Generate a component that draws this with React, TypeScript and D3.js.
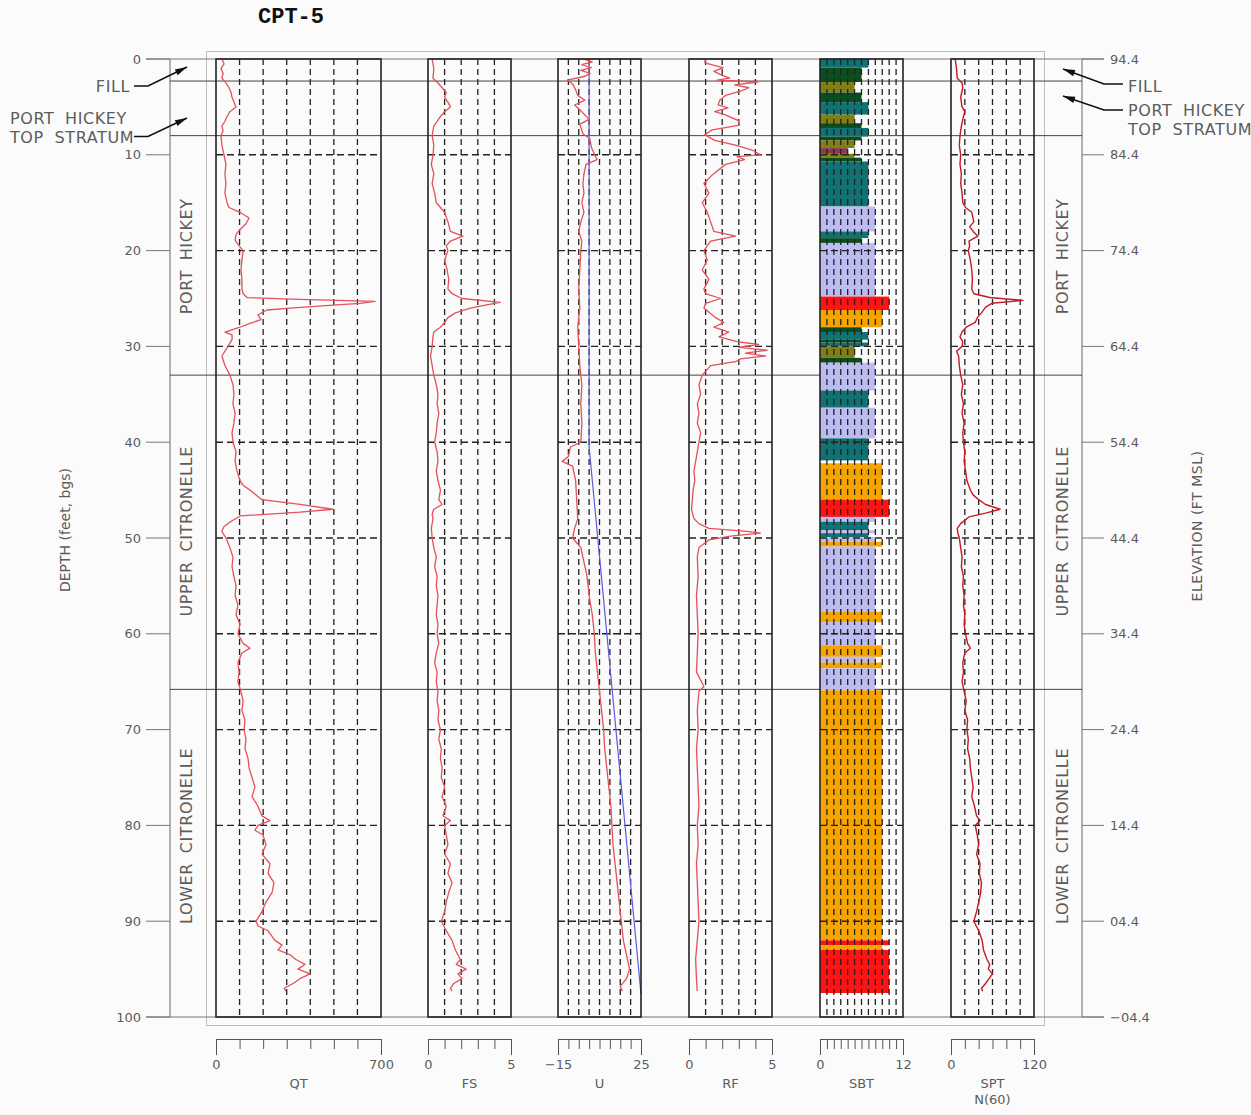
import { useEffect, useRef } from 'react';
import * as d3 from 'd3';

// depth axis (feet below ground surface) and matching elevations
const depthTicks = [0, 10, 20, 30, 40, 50, 60, 70, 80, 90, 100];
const elevationLabels = ['94.4', '84.4', '74.4', '64.4', '54.4', '44.4', '34.4', '24.4', '14.4', '04.4', '\u221204.4'];

// stratigraphy
const formationBreaks = [2.3, 8.0, 33.0, 65.8];
const formationNames = ['PORT HICKEY', 'UPPER CITRONELLE', 'LOWER CITRONELLE'];
const formationLabelDepths = [20.6, 49.3, 81.1];

// tracks
const trackNames = ['QT', 'FS', 'U', 'RF', 'SBT', 'SPT'];
const trackMins = [0, 0, -15, 0, 0, 0];
const trackMaxs = [700, 5, 25, 5, 12, 120];
const trackSteps = [100, 1, 5, 1, 1, 20];
const trackEndLabels = [['0', '700'], ['0', '5'], ['\u221215', '25'], ['0', '5'], ['0', '12'], ['0', '120']];

// [depth, value]
const qtProfile: [number, number][] = [
  [0, 25], [0.5, 34], [1, 21], [1.5, 30], [2, 25], [2.5, 42], [3, 55], [3.5, 64], [4, 68], [4.5, 76],
  [5, 85], [5.5, 59], [6, 47], [6.5, 38], [7, 25], [7.5, 30], [8, 21], [9, 25], [10, 34], [11, 42],
  [12, 38], [13, 42], [14, 38], [15, 47], [15.5, 55], [16, 102], [16.6, 140], [17.2, 127], [17.8, 102],
  [18.3, 85], [18.9, 81], [19.5, 98], [20, 115], [21, 110], [22, 106], [23, 110], [24, 110], [24.5, 115],
  [24.9, 132], [25.1, 356], [25.3, 675], [25.5, 611], [25.7, 496], [26, 314], [26.2, 216], [26.7, 178],
  [27.2, 191], [27.6, 144], [28, 102], [28.5, 38], [28.8, 68], [29.3, 68], [30, 51], [31, 25], [32, 38],
  [33, 59], [34, 72], [35, 76], [36, 72], [37, 81], [38, 76], [39, 68], [40, 72], [41, 85], [42, 81],
  [43, 89], [44, 102], [44.5, 115], [45, 144], [45.5, 170], [46, 195], [46.5, 356], [47, 496], [47.3, 356],
  [47.7, 102], [48.2, 68], [48.8, 34], [49.3, 25], [50, 42], [51, 59], [52, 72], [53, 68], [54, 76],
  [55, 85], [56, 81], [57, 93], [58, 85], [59, 102], [60, 93], [61, 115], [61.5, 144], [62, 110], [63, 93],
  [64, 98], [65, 93], [66, 106], [67, 115], [68, 110], [69, 123], [70, 119], [71, 127], [72, 123], [73, 136],
  [74, 140], [75, 153], [76, 165], [77, 153], [78, 178], [79, 195], [79.5, 229], [80, 178], [80.5, 165],
  [81, 199], [82, 212], [83, 195], [84, 229], [85, 221], [86, 246], [87, 238], [88, 212], [89, 195],
  [90, 170], [90.5, 178], [91, 221], [92, 250], [92.5, 280], [93, 263], [93.5, 314], [94, 339], [94.5, 378],
  [95, 348], [95.5, 399], [96, 356], [96.5, 327], [97, 289], [97.3, 297],
];

const fsProfile: [number, number][] = [
  [0, 0.25], [1, 0.35], [2, 0.3], [2.5, 0.6], [3, 0.85], [3.5, 1.1], [4, 1.0], [4.5, 1.2], [5, 1.35],
  [5.5, 1.0], [6, 0.75], [6.5, 0.55], [7, 0.35], [8, 0.25], [9, 0.35], [10, 0.3], [11, 0.2], [12, 0.35],
  [13, 0.25], [14, 0.4], [15, 0.5], [15.5, 0.75], [16, 1.0], [17, 1.2], [18, 1.35], [18.5, 2.1], [19, 1.35],
  [19.5, 1.1], [20, 1.2], [21, 1.0], [22, 1.15], [23, 1.25], [24, 1.2], [24.5, 1.45], [25, 2.05], [25.4, 4.35],
  [25.7, 3.45], [26, 2.55], [26.5, 1.65], [27, 1.2], [27.5, 1.0], [28, 0.75], [28.5, 0.35], [29, 0.3],
  [30, 0.25], [31, 0.15], [32, 0.25], [33, 0.35], [34, 0.5], [35, 0.6], [36, 0.55], [37, 0.65], [38, 0.55],
  [39, 0.5], [40, 0.4], [41, 0.55], [42, 0.6], [43, 0.5], [44, 0.6], [45, 0.75], [46, 0.65], [46.5, 0.85],
  [47, 0.35], [47.5, 0.25], [48, 0.3], [49, 0.2], [50, 0.25], [51, 0.35], [52, 0.5], [53, 0.4], [54, 0.55],
  [55, 0.5], [56, 0.6], [57, 0.55], [58, 0.5], [59, 0.6], [60, 0.55], [61, 0.65], [62, 0.5], [63, 0.4],
  [64, 0.55], [65, 0.5], [66, 0.6], [67, 0.55], [68, 0.65], [69, 0.6], [70, 0.75], [71, 0.65], [72, 0.8],
  [73, 0.75], [74, 0.85], [75, 0.8], [76, 1.0], [77, 0.85], [78, 1.1], [79, 0.9], [79.5, 1.35], [80, 1.0],
  [81, 1.1], [82, 1.2], [83, 1.0], [84, 1.35], [85, 1.2], [86, 1.45], [87, 1.25], [88, 1.1], [89, 1.0],
  [90, 0.8], [91, 1.1], [92, 1.45], [93, 1.65], [94, 1.95], [94.5, 1.7], [95, 2.3], [95.5, 1.8], [96, 2.05],
  [96.5, 1.55], [97, 1.35], [97.3, 1.45],
];

const uProfile: [number, number][] = [
  [0, -3], [0.3, 1.5], [0.6, -3.5], [0.9, 1], [1.2, -4], [1.5, 0.5], [1.8, -2], [2.2, -10.5], [2.6, -8],
  [3.2, -6.5], [3.8, -5.5], [4.3, -2], [4.8, -7], [5.3, -4.5], [6.3, 0], [6.8, -4.5], [7.8, -3], [8.3, 0.3],
  [9.3, 1.2], [10.5, 3.8], [11, -1.5], [12, -2.5], [13, -3], [14, -2.5], [15, -3.5], [16, -2.5], [17, -4],
  [18, -5], [19, -3.5], [20, -4], [22, -4.5], [24, -5], [26, -4.5], [28, -5.5], [30, -5], [32, -4.5],
  [34, -3.5], [36, -4], [38, -3.5], [40, -4], [40.5, -9], [41.5, -10], [42, -13], [42.5, -8], [44, -6.5],
  [46, -6], [48, -5.5], [49, -7], [50, -8], [51, -4], [52, -3], [54, -1], [56, 0], [58, 1.5], [60, 2.5],
  [62, 3], [64, 4], [66, 5], [68, 6], [70, 7], [72, 7.5], [74, 8.5], [76, 9.5], [78, 10.5], [80, 11],
  [82, 11.5], [84, 12.5], [86, 13.5], [88, 14.5], [90, 15.5], [92, 16.5], [94, 18.5], [95, 19.5], [96, 18],
  [96.8, 15], [97.3, 16],
];

const hydrostaticLine: [number, number][] = [[0, 0], [40.5, 0], [97.6, 25]];

const rfProfile: [number, number][] = [
  [0, 1.0], [0.4, 0.95], [0.9, 2.05], [1.3, 1.5], [1.7, 2.0], [2.0, 2.45], [2.2, 1.7], [2.4, 4.15],
  [2.7, 2.75], [3.0, 3.6], [3.3, 3.2], [3.8, 2.2], [4.3, 1.85], [4.8, 1.75], [5.1, 2.35], [5.5, 1.55],
  [5.8, 2.15], [6.4, 2.95], [6.9, 3.05], [7.4, 1.4], [7.9, 0.95], [8.5, 1.55], [9.0, 2.8], [9.5, 3.8],
  [10.0, 4.3], [10.2, 2.9], [10.5, 3.35], [11.0, 2.2], [12.1, 1.4], [13, 0.9], [14, 1.2], [15, 0.8],
  [16, 1.1], [17, 1.3], [18, 1.5], [18.5, 2.8], [19, 1.3], [20, 0.9], [21, 1.1], [22, 0.8], [23, 1.2],
  [24, 0.9], [24.5, 1.0], [25, 1.9], [25.5, 1.0], [26, 0.9], [27, 1.6], [27.5, 2.1], [28, 1.5], [28.5, 2.4],
  [29, 1.8], [29.5, 2.9], [29.8, 4.2], [30.1, 3.0], [30.4, 4.7], [30.7, 3.4], [31.0, 4.6], [31.3, 3.1],
  [31.6, 2.8], [32, 1.3], [33, 0.8], [34, 0.6], [35, 0.7], [36, 0.5], [37, 0.6], [38, 0.5], [39, 0.7],
  [40, 0.6], [41, 0.5], [42, 0.4], [43, 0.3], [44, 0.35], [45, 0.25], [46, 0.2], [47, 0.15], [48, 0.3],
  [48.5, 0.6], [49, 1.2], [49.3, 3.5], [49.5, 4.3], [49.8, 2.5], [50.2, 1.2], [51, 0.6], [52, 0.5],
  [54, 0.55], [56, 0.45], [58, 0.5], [60, 0.55], [62, 0.5], [64, 0.45], [65.5, 0.9], [66, 0.6], [68, 0.5],
  [70, 0.55], [72, 0.45], [74, 0.5], [76, 0.55], [78, 0.6], [80, 0.5], [82, 0.55], [84, 0.45], [86, 0.5],
  [88, 0.55], [90, 0.6], [92, 0.5], [94, 0.4], [96, 0.45], [97.3, 0.5],
];

const sptProfile: [number, number][] = [
  [0, 6], [1, 8], [2, 9], [2.5, 16], [3, 17], [4, 14], [5, 16], [5.5, 20], [6, 18], [7, 15], [8, 13],
  [9, 12], [10, 14], [11, 13], [12, 15], [13, 14], [14, 16], [15, 17], [15.5, 21], [16, 30], [17, 33],
  [17.5, 27], [18, 32], [18.5, 39], [19, 26], [19.5, 27], [20, 25], [21, 28], [22, 30], [23, 31], [24, 30],
  [24.5, 33], [24.9, 56], [25.2, 104], [25.5, 59], [25.9, 50], [26.5, 44], [27, 38], [27.5, 35], [28, 22],
  [28.5, 16], [29, 13], [29.5, 17], [30, 16], [30.5, 8], [31, 11], [32, 12], [33, 14], [34, 17], [35, 15],
  [36, 18], [37, 16], [38, 19], [39, 17], [40, 18], [41, 20], [42, 19], [43, 21], [44, 23], [45, 28],
  [45.5, 32], [46, 40], [46.5, 50], [47, 71], [47.4, 50], [47.8, 26], [48.5, 14], [49, 9], [49.5, 10],
  [50, 12], [51, 14], [52, 16], [53, 15], [54, 18], [55, 17], [56, 19], [57, 18], [58, 20], [59, 19],
  [60, 21], [61, 24], [61.5, 28], [62, 20], [63, 17], [64, 18], [65, 16], [66, 19], [67, 22], [68, 20],
  [69, 24], [70, 23], [71, 25], [72, 24], [73, 27], [74, 28], [75, 30], [76, 32], [77, 30], [78, 34],
  [79, 37], [79.5, 42], [80, 35], [81, 38], [82, 40], [83, 37], [84, 42], [85, 41], [86, 44], [87, 43],
  [88, 40], [89, 37], [90, 33], [91, 40], [92, 45], [93, 47], [94, 52], [94.5, 56], [95, 54], [95.5, 60],
  [96, 55], [96.5, 50], [97, 44], [97.3, 46],
];

// [top depth, bottom depth, SBT zone]
const sbtLayers: [number, number, number][] = [
  [0, 0.9, 7], [0.9, 2.4, 6], [2.4, 3.5, 5], [3.5, 4.5, 6], [4.5, 5.8, 7], [5.8, 6.7, 5], [6.7, 7.2, 6],
  [7.2, 8.1, 7], [8.1, 8.5, 6], [8.5, 9.3, 5], [9.3, 9.9, 4], [9.9, 10.3, 5], [10.3, 10.7, 6],
  [10.7, 15.4, 7], [15.4, 18.0, 8], [18.0, 18.7, 7], [18.7, 19.2, 6], [19.2, 24.8, 8], [24.8, 26.2, 10],
  [26.2, 28.0, 9], [28.0, 28.5, 6], [28.5, 29.3, 7], [29.3, 29.6, 6], [29.6, 30.0, 7], [30.0, 31.2, 5],
  [31.2, 31.7, 6], [31.7, 34.6, 8], [34.6, 36.4, 7], [36.4, 39.6, 8], [39.6, 41.9, 7], [42.2, 46.0, 9],
  [46.0, 47.8, 10], [47.8, 48.3, 8], [48.3, 49.2, 7], [49.2, 49.5, 8], [49.5, 49.9, 7], [49.9, 50.4, 8],
  [50.4, 50.9, 9], [50.9, 57.7, 8], [57.7, 58.8, 9], [58.8, 61.2, 8], [61.2, 62.4, 9], [62.4, 63.0, 8],
  [63.0, 63.6, 9], [63.6, 65.9, 8], [65.9, 92.0, 9], [92.0, 92.5, 10], [92.5, 93.0, 9], [93.0, 97.5, 10],
];

const sbtZones = [4, 5, 6, 7, 8, 9, 10];
const sbtColors = ['#8a3a48', '#7f7f14', '#0c4d20', '#107272', '#bcbcf2', '#f6a400', '#ff1212'];

const FONT = "'DejaVu Sans', sans-serif";
const TEXT = '#5c5c5c';

const App = () => {
  const svgRef = useRef<SVGSVGElement>(null);

  useEffect(() => {
    const width = 1251;
    const height = 1115;
    const svg = d3.select(svgRef.current);
    svg.selectAll('*').remove();
    svg.attr('width', width).attr('height', height);

    svg.append('rect').attr('width', width).attr('height', height).attr('fill', '#fbfbfb');

    const y = d3.scaleLinear().domain([0, 100]).range([59, 1017]);
    const leftAxisX = 170;
    const rightAxisX = 1082;
    const trackLeft = [216, 428, 558, 689, 820, 951];
    const trackWidth = [165, 83, 83, 83, 83, 83];
    const axisY = 1039;

    // title
    svg.append('text')
      .attr('x', 258).attr('y', 23)
      .attr('font-family', "'Courier New', 'Liberation Mono', monospace")
      .attr('font-weight', 'bold').attr('font-size', 22)
      .attr('fill', '#111')
      .text('CPT-5');

    // light frame
    svg.append('rect')
      .attr('x', 206.5).attr('y', 51.5).attr('width', 838).attr('height', 974)
      .attr('fill', 'none').attr('stroke', '#bbb').attr('stroke-width', 1);

    // top / bottom rules
    [0, 100].forEach(d => {
      svg.append('line')
        .attr('x1', 146).attr('x2', 1104).attr('y1', y(d)).attr('y2', y(d))
        .attr('stroke', '#777').attr('stroke-width', 1);
    });

    // depth axis (left) and elevation axis (right)
    svg.append('line').attr('x1', leftAxisX).attr('x2', leftAxisX).attr('y1', y(0)).attr('y2', y(100))
      .attr('stroke', '#666');
    svg.append('line').attr('x1', rightAxisX).attr('x2', rightAxisX).attr('y1', y(0)).attr('y2', y(100))
      .attr('stroke', '#666');

    depthTicks.forEach((d, i) => {
      svg.append('line').attr('x1', 146).attr('x2', leftAxisX).attr('y1', y(d)).attr('y2', y(d))
        .attr('stroke', '#777');
      svg.append('line').attr('x1', rightAxisX).attr('x2', 1104).attr('y1', y(d)).attr('y2', y(d))
        .attr('stroke', '#777');
      svg.append('text')
        .attr('x', 141).attr('y', y(d) + 4.5)
        .attr('text-anchor', 'end')
        .attr('font-family', FONT).attr('font-size', 13).attr('fill', TEXT)
        .text(d);
      svg.append('text')
        .attr('x', 1110).attr('y', y(d) + 4.5)
        .attr('font-family', FONT).attr('font-size', 13).attr('fill', TEXT)
        .text(elevationLabels[i]);
    });

    svg.append('text')
      .attr('transform', `translate(70,530) rotate(-90)`)
      .attr('text-anchor', 'middle')
      .attr('font-family', FONT).attr('font-size', 14).attr('fill', TEXT)
      .text('DEPTH (feet, bgs)');
    svg.append('text')
      .attr('transform', `translate(1202,526) rotate(-90)`)
      .attr('text-anchor', 'middle')
      .attr('font-family', FONT).attr('font-size', 14).attr('fill', TEXT)
      .attr('letter-spacing', 0.5)
      .text('ELEVATION (FT MSL)');

    // formation boundaries and names
    formationBreaks.forEach(d => {
      svg.append('line').attr('x1', leftAxisX).attr('x2', rightAxisX).attr('y1', y(d)).attr('y2', y(d))
        .attr('stroke', '#444').attr('stroke-width', 1);
    });
    formationNames.forEach((name, i) => {
      [192, 1068].forEach(x => {
        svg.append('text')
          .attr('transform', `translate(${x},${y(formationLabelDepths[i])}) rotate(-90)`)
          .attr('text-anchor', 'middle')
          .attr('font-family', FONT).attr('font-size', 16).attr('fill', TEXT)
          .attr('letter-spacing', 0.6).attr('word-spacing', 4)
          .text(name);
      });
    });

    // leader annotations
    const leader = (tx: number, ty: number, hx: number, ax: number, ay: number) => {
      svg.append('path')
        .attr('d', `M${tx},${ty}H${hx}L${ax},${ay}`)
        .attr('fill', 'none').attr('stroke', '#111').attr('stroke-width', 1.6);
      const ang = Math.atan2(ay - ty, ax - hx);
      const len = 12;
      const hw = 3.2;
      const bx = ax - len * Math.cos(ang);
      const by = ay - len * Math.sin(ang);
      svg.append('path')
        .attr('d', `M${ax},${ay}L${bx - hw * Math.sin(ang)},${by + hw * Math.cos(ang)}L${bx + hw * Math.sin(ang)},${by - hw * Math.cos(ang)}Z`)
        .attr('fill', '#111');
    };
    leader(134, 86, 148, 187, 67);
    leader(134, 136.5, 148, 187, 118);
    leader(1123, 84, 1104, 1063, 69);
    leader(1123, 110, 1104, 1063, 96);

    const note = (x: number, yy: number, txt: string, anchor: string) => {
      svg.append('text').attr('x', x).attr('y', yy)
        .attr('text-anchor', anchor)
        .attr('font-family', FONT).attr('font-size', 16).attr('fill', TEXT)
        .attr('letter-spacing', 0.6).attr('word-spacing', 5)
        .text(txt);
    };
    note(130, 92, 'FILL', 'end');
    note(10, 124, 'PORT HICKEY', 'start');
    note(10, 143, 'TOP STRATUM', 'start');
    note(1128, 92, 'FILL', 'start');
    note(1128, 116, 'PORT HICKEY', 'start');
    note(1128, 135, 'TOP STRATUM', 'start');

    // tracks
    const profiles = [qtProfile, fsProfile, uProfile, rfProfile, null, sptProfile];
    trackNames.forEach((name, i) => {
      const x0 = trackLeft[i];
      const x1 = x0 + trackWidth[i];
      const x = d3.scaleLinear().domain([trackMins[i], trackMaxs[i]]).range([x0, x1]);
      const ticks = d3.range(trackMins[i], trackMaxs[i] + trackSteps[i] / 2, trackSteps[i]);
      const g = svg.append('g');

      if (name === 'SBT') {
        g.selectAll('rect.sbt')
          .data(sbtLayers)
          .enter()
          .append('rect')
          .attr('class', 'sbt')
          .attr('x', x0)
          .attr('y', d => y(d[0]))
          .attr('width', d => x(d[2]) - x0)
          .attr('height', d => y(d[1]) - y(d[0]))
          .attr('fill', d => sbtColors[sbtZones.indexOf(d[2])]);
      }

      // dashed grid
      ticks.slice(1, -1).forEach(t => {
        g.append('line').attr('x1', x(t)).attr('x2', x(t)).attr('y1', y(0)).attr('y2', y(100))
          .attr('stroke', '#222').attr('stroke-width', 1.3).attr('stroke-dasharray', '6,4');
      });
      depthTicks.slice(1, -1).forEach(d => {
        g.append('line').attr('x1', x0).attr('x2', x1).attr('y1', y(d)).attr('y2', y(d))
          .attr('stroke', '#222').attr('stroke-width', 1.4).attr('stroke-dasharray', '7,4');
      });

      const line = d3.line<[number, number]>().x(d => x(d[1])).y(d => y(d[0]));
      if (name === 'U') {
        g.append('path').datum(hydrostaticLine).attr('d', line)
          .attr('fill', 'none').attr('stroke', '#5a5ae6').attr('stroke-width', 1.2);
      }
      const prof = profiles[i];
      if (prof) {
        g.append('path').datum(prof).attr('d', line)
          .attr('fill', 'none')
          .attr('stroke', name === 'SPT' ? '#c41a22' : '#e5505a')
          .attr('stroke-width', name === 'SPT' ? 1.4 : 1.3)
          .attr('stroke-linejoin', 'round');
      }

      g.append('rect').attr('x', x0).attr('y', y(0)).attr('width', x1 - x0).attr('height', y(100) - y(0))
        .attr('fill', 'none').attr('stroke', '#222').attr('stroke-width', 1.6);

      // bottom scale
      const axis = d3.axisBottom(x)
        .tickValues(ticks)
        .tickSizeInner(10)
        .tickSizeOuter(16)
        .tickPadding(11)
        .tickFormat((_, k) => (k === 0 ? trackEndLabels[i][0] : k === ticks.length - 1 ? trackEndLabels[i][1] : ''));
      const ag = svg.append('g').attr('transform', `translate(0,${axisY})`).call(axis);
      ag.select('.domain').attr('stroke', '#555');
      ag.selectAll('.tick line').attr('stroke', '#555');
      ag.selectAll('.tick text').attr('font-family', FONT).attr('font-size', 13).attr('fill', TEXT);

      svg.append('text')
        .attr('x', (x0 + x1) / 2).attr('y', axisY + 49)
        .attr('text-anchor', 'middle')
        .attr('font-family', FONT).attr('font-size', 13).attr('fill', TEXT)
        .text(name);
      if (name === 'SPT') {
        svg.append('text')
          .attr('x', (x0 + x1) / 2).attr('y', axisY + 65)
          .attr('text-anchor', 'middle')
          .attr('font-family', FONT).attr('font-size', 13).attr('fill', TEXT)
          .text('N(60)');
      }
    });
  }, []);

  return <svg ref={svgRef} style={{ position: 'absolute', left: 0, top: 0 }} />;
};

export default App;
